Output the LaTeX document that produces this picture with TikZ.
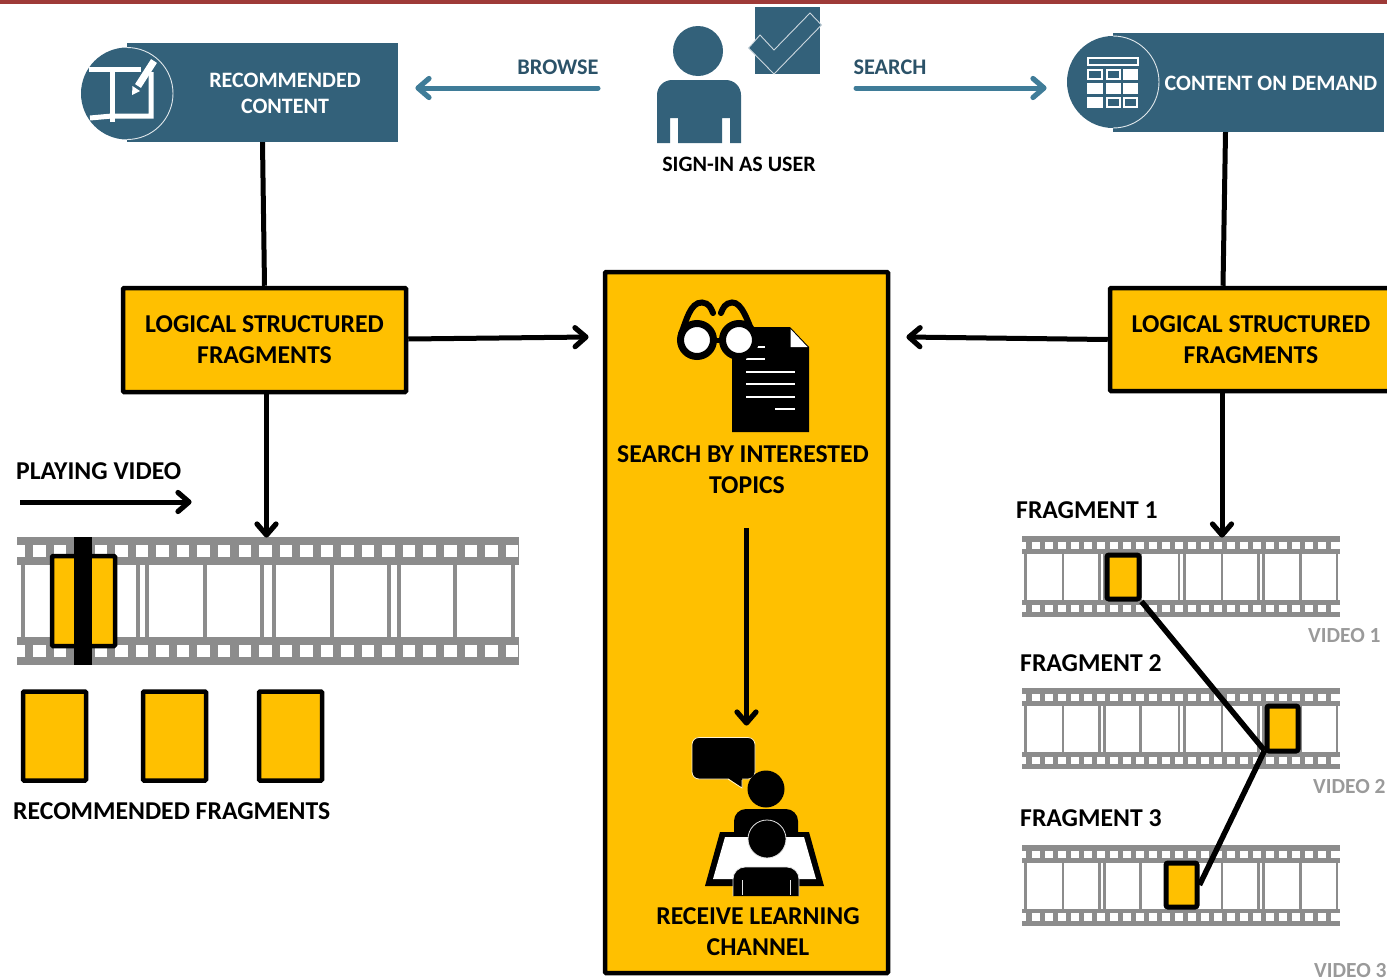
\documentclass[tikz,border=0pt]{standalone}
\usepackage{fontspec}
\setmainfont{Carlito}
\usetikzlibrary{arrows.meta,calc}
\definecolor{teal}{HTML}{33617A}
\definecolor{tealarrow}{HTML}{3F7C98}
\definecolor{gold}{HTML}{FFC000}
\definecolor{topbar}{HTML}{9E3A38}
\definecolor{filmgray}{HTML}{8C8C8C}
\definecolor{vidgray}{HTML}{9A9A9A}
\pgfdeclarearrow{
  name=Chev,
  setup code={\pgfarrowssettipend{3pt}\pgfarrowssetlineend{-2pt}\pgfarrowssetvisualbackend{-12pt}\pgfarrowssetbackend{-12pt}},
  drawing code={%
    \pgfsetdash{}{0pt}\pgfsetlinewidth{5.2pt}\pgfsetroundcap\pgfsetroundjoin
    \pgfpathmoveto{\pgfpoint{-11pt}{-9.5pt}}%
    \pgfpathlineto{\pgfpoint{0pt}{0pt}}%
    \pgfpathlineto{\pgfpoint{-11pt}{9.5pt}}%
    \pgfusepathqstroke},
}
\tikzset{
  lbl/.style={inner sep=0pt,font=\fontsize{25.7}{25.7}\selectfont\bfseries,text=black},
  lblteal/.style={lbl,text=teal!85!black,font=\fontsize{22.3}{22.3}\selectfont\bfseries},
  lblwhite/.style={lbl,text=white,font=\fontsize{22}{22}\selectfont\bfseries},
  lblvideo/.style={lbl,text=vidgray,font=\fontsize{21.5}{21.5}\selectfont\bfseries},
  goldbox/.style={draw=black,fill=gold,line width=4.5pt,inner sep=0pt,rounded corners=1pt},
  fragbox/.style={goldbox,line width=5pt,rounded corners=2pt},
  tealbox/.style={fill=teal,inner sep=0pt},
  conn/.style={draw=black,line width=5pt},
  arr/.style={conn,-Chev},
  tealarr/.style={draw=tealarrow,line width=5pt,line cap=round,-Chev},
}
\newcommand{\bigfilm}{%
  \fill[filmgray] (17,537) rectangle (519,565);
  \fill[filmgray] (17,637) rectangle (519,665);
  \fill[white] (17,545) rectangle (25,557);
  \fill[white] (17,645) rectangle (25,657);
  \foreach \k in {0,...,23}{
    \fill[white] ({33+20.55*\k},545) rectangle ({45.5+20.55*\k},557);
    \fill[white] ({33+20.55*\k},645) rectangle ({45.5+20.55*\k},657);
  }
  \foreach \a in {23,138,147,204.5,262,274,331.5,389,398.5,455,513}{
    \fill[filmgray] ({\a-2},565) rectangle ({\a+2},637);
  }
}
\newcommand{\smallfilm}{%
  \fill[filmgray] (1022,536) rectangle (1340,554);
  \fill[filmgray] (1022,600) rectangle (1340,617);
  \foreach \k in {0,...,23}{
    \fill[white] ({1032+13*\k},542) rectangle ({1040+13*\k},549);
    \fill[white] ({1032+13*\k},604.5) rectangle ({1040+13*\k},612);
  }
  \fill[white] (1022,542) rectangle (1026,549);
  \fill[white] (1022,604.5) rectangle (1026,612);
  \fill[white] (1336,542) rectangle (1340,549);
  \fill[white] (1336,604.5) rectangle (1340,612);
  \foreach \a in {1025.5,1063,1099.5,1104.5,1140.5,1179,1184.5,1222,1258.5,1263.5,1300.5,1337}{
    \fill[filmgray] ({\a-1.3},554) rectangle ({\a+1.3},600);
  }
}
\begin{document}
\begin{tikzpicture}[x=1pt,y=-1pt]
\useasboundingbox (0,0) rectangle (1387,980);
\clip (0,0) rectangle (1387,980);
\fill[topbar] (0,0) rectangle (1387,4);

% teal headers
\node[tealbox,minimum width=271pt,minimum height=99pt] (rec) at (262.5,92.5) {};
\fill[teal] (127,93.5) circle (46);
\draw[white!85!teal,line width=0.9pt] (127,47.5) arc (-90:90:46);
\node[lblwhite] (rect1) at (285,80) {RECOMMENDED};
\node[lblwhite] (rect2) at (285,106) {CONTENT};
\node[tealbox,minimum width=271pt,minimum height=99pt] (cod) at (1248.5,82.5) {};
\fill[teal] (1113,82) circle (46);
\draw[white!85!teal,line width=0.9pt] (1113,36) arc (-90:90:46);
\node[lblwhite] (codt) at (1271,83) {CONTENT ON DEMAND};

% book icon
\draw[white,line width=5pt] (89,69) -- (141,69);
\draw[white,line width=5pt] (112,69) -- (112,122);
\draw[white,line width=5pt] (90,118) -- (112,116) -- (151,116) -- (151,72);
\draw[white,line width=7pt] (154,61) -- (138,86);
\fill[white] (132,95) -- (132.5,86) -- (140,91) -- cycle;

% table icon
\draw[white,line width=2pt] (1088,58) rectangle (1137.5,65);
\foreach \xa/\xb/\ya/\yb/\st in {1087/1103/69/80/o,1106/1121/69/80/o,1123/1138/69/80/f,
  1087/1103/83/94/f,1106/1121/83/94/f,1123/1138/83/94/f,
  1087/1103/97/108/f,1106/1121/97/108/o,1123/1138/97/108/o}{
  \fill[white] (\xa,\ya) rectangle (\xb,\yb);
  \if\st o \fill[teal] (\xa+2,\ya+2) rectangle (\xb-2,\yb-2);\fi
}

% user icon
\fill[teal] (698,51) circle (25);
\fill[teal] (657,143) -- (657,95) arc (180:270:15) -- (726,80) arc (270:360:15) -- (741,143) -- (730,143) -- (730,118) -- (722,118) -- (722,143) -- (678,143) -- (678,118) -- (670,118) -- (670,143) -- cycle;
\fill[teal] (755,7) rectangle (819.5,74);
\draw[fill=teal,draw=white!75!teal,line width=0.9pt] (748.5,48) -- (760,35) -- (774,50) -- (810,13) -- (821.5,25) -- (774,74) -- cycle;
\node[lbl,font=\fontsize{22}{22}\selectfont\bfseries] (signin) at (739,164) {SIGN-IN AS USER};

% browse / search
\coordinate (bs) at (598,88);
\coordinate (be) at (415,88);
\coordinate (ss) at (856,88);
\coordinate (se) at (1047,88);
\draw[tealarr] (bs) -- (be);
\draw[tealarr] (ss) -- (se);
\node[lblteal] (browse) at (558,67.5) {BROWSE};
\node[lblteal] (search) at (890,67.5) {SEARCH};

% gold boxes
\node[goldbox,minimum width=283pt,minimum height=104pt] (lsfl) at (264.5,340) {};
\node[lbl] (lsfl1) at (264.5,324) {LOGICAL STRUCTURED};
\node[lbl] (lsfl2) at (264.5,355) {FRAGMENTS};
\node[goldbox,minimum width=282pt,minimum height=103pt] (lsfr) at (1251,339.5) {};
\node[lbl] (lsfr1) at (1251,324) {LOGICAL STRUCTURED};
\node[lbl] (lsfr2) at (1251,355) {FRAGMENTS};
\node[goldbox,minimum width=283pt,minimum height=701pt] (ctr) at (746.5,622.5) {};
\node[lbl] (ct1) at (743,454) {SEARCH BY INTERESTED};
\node[lbl] (ct2) at (747,485) {TOPICS};
\node[lbl] (ct3) at (758,916) {RECEIVE LEARNING};
\node[lbl] (ct4) at (758,947) {CHANNEL};

% connectors
\coordinate (ctrl) at (589,337);
\coordinate (ctrr) at (906,337);
\draw[conn] (rec.south) -- (lsfl.north);
\draw[conn] ([xshift=-23pt]cod.south) -- ([xshift=-28pt]lsfr.north);
\draw[arr] ([yshift=1pt]lsfl.east) -- (ctrl);
\draw[arr] (lsfr.west) -- (ctrr);

% glasses + document
\fill[black] (732,327) -- (790,327) -- (809,347) -- (809,432) -- (732,432) -- cycle;
\fill[white] (790.5,329) -- (790.5,347) -- (807.5,347) -- cycle;
\foreach \xa/\xb/\yy in {757/765/347,746/765/359,746/795/372,746/795/384,746/795/397,775/795/409}{
  \draw[white,line width=2.4pt] (\xa,\yy) -- (\xb,\yy);
}
\draw[black,line width=6pt,line cap=round] (681,334) .. controls (686,322) and (690,302) .. (702,302.5) .. controls (709,303) and (711,308) .. (713,313);
\draw[black,line width=6pt,line cap=round] (753,334) .. controls (748,322) and (742,302) .. (732,302.5) .. controls (725,303) and (723,308) .. (721,313);
\draw[black,line width=5pt] (697,340) -- (739,340);
\draw[black,fill=white,line width=7pt] (697,340) circle (16.5);
\draw[black,fill=white,line width=7pt] (739,340) circle (16.5);

% learning icon
\draw[fill=black,draw=white!80!gold,line width=0.8pt,rounded corners=7pt] (692,737.5) rectangle (755,779);
\fill[black] (728,778) -- (742,788) -- (742,776) -- cycle;
\draw[white!80!gold,line width=0.8pt] (728,779) -- (742,788) -- (742,780);
\fill[black] (766,789) circle (18.5);
\fill[black] (734,835) -- (734,821) arc (180:270:12) -- (786,809) arc (270:360:12) -- (798,835) -- cycle;
\fill[black] (720,832) -- (809,832) -- (824,886) -- (705,886) -- cycle;
\fill[white] (725,837) -- (804,837) -- (816,879) -- (713,879) -- cycle;
\draw[black,fill=black,draw=white!90!black,line width=0.8pt] (767,839) circle (19);
\draw[fill=black,draw=white!90!black,line width=0.8pt] (733,896) -- (733,879) arc (180:270:12) -- (787,867) arc (270:360:12) -- (799,896);
\draw[white!90!black,line width=0.7pt] (742,880) -- (742,895);
\draw[white!90!black,line width=0.7pt] (790,880) -- (790,895);
\coordinate (cas) at (746.5,528);
\coordinate (cae) at (746.5,726);
\draw[black,line width=4.4pt,-Chev] (cas) -- (cae);

% left film
\bigfilm
\node[goldbox,minimum width=63pt,minimum height=90pt] (playfrag) at (83.5,601) {};
\fill[black] (74,537) rectangle (92,665);
\coordinate (filmtop) at (266.5,538);
\draw[arr] ([xshift=2pt]lsfl.south) -- (filmtop);
\node[lbl,anchor=west] (playing) at (16,471) {PLAYING VIDEO};
\coordinate (pvs) at (20,502);
\coordinate (pve) at (192,502);
\draw[arr] (pvs) -- (pve);
\node[goldbox,minimum width=63pt,minimum height=89pt] (rf1) at (54.5,736) {};
\node[goldbox,minimum width=63pt,minimum height=89pt] (rf2) at (174.5,736) {};
\node[goldbox,minimum width=63pt,minimum height=89pt] (rf3) at (290.5,736) {};
\node[lbl,anchor=west] (rft) at (13,811) {RECOMMENDED FRAGMENTS};

% right films
\smallfilm
\begin{scope}[shift={(0,152)}]\smallfilm\end{scope}
\begin{scope}[shift={(0,308.5)}]\smallfilm\end{scope}
\coordinate (filmtopr) at (1222,538);
\draw[arr] ([xshift=-29pt]lsfr.south) -- (filmtopr);
\node[fragbox,minimum width=32pt,minimum height=44pt] (f1) at (1123,577) {};
\node[fragbox,minimum width=31pt,minimum height=45pt] (f2) at (1282.5,728.5) {};
\node[fragbox,minimum width=31pt,minimum height=44pt] (f3) at (1181.5,885) {};
\draw[conn,line width=5.5pt] (f1.south east) -- ([yshift=3pt]f2.south west);
\draw[conn,line width=5.5pt] ([yshift=3pt]f2.south west) -- (f3.east);
\node[lbl,anchor=west] (t1) at (1016,510) {FRAGMENT 1};
\node[lbl,anchor=west] (t2) at (1020,663) {FRAGMENT 2};
\node[lbl,anchor=west] (t3) at (1020,818) {FRAGMENT 3};
\node[lblvideo,anchor=west] (v1) at (1308,636) {VIDEO 1};
\node[lblvideo,anchor=west] (v2) at (1313,787) {VIDEO 2};
\node[lblvideo,anchor=west] (v3) at (1314,971) {VIDEO 3};
\end{tikzpicture}
\end{document}
